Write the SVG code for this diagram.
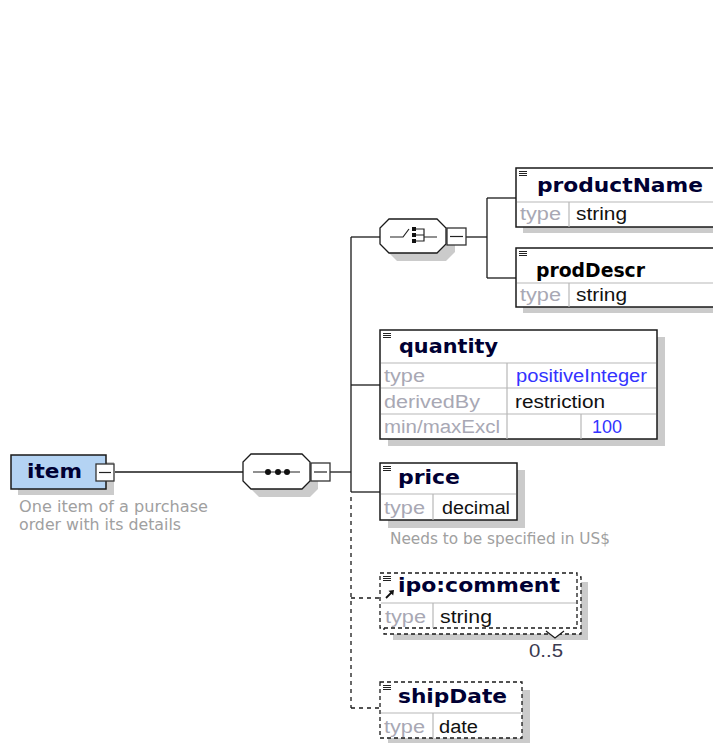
<svg xmlns="http://www.w3.org/2000/svg" width="713" height="743" viewBox="0 0 713 743">
<style>
.bg{fill:#fff}
.sh{fill:#cbcbcb}
.box{fill:#fff;stroke:#1a1a1a;stroke-width:1.5}
.dbox{fill:#fff;stroke:#1a1a1a;stroke-width:1.3;stroke-dasharray:4,3}
.sep{stroke:#b8b8b8;stroke-width:1.2}
.con{fill:none;stroke:#1a1a1a;stroke-width:1.3}
.dcon{fill:none;stroke:#1a1a1a;stroke-width:1.3;stroke-dasharray:4,4}
.name{font-family:"DejaVu Sans",Verdana,sans-serif;font-weight:bold;font-size:19px;fill:#000033}
.lbl{font-family:"Liberation Sans",Arial,sans-serif;font-size:18px;fill:#a8a8b4}
.val{font-family:"Liberation Sans",Arial,sans-serif;font-size:18px;fill:#111}
.blue{fill:#3333ff}
.doc{font-family:"DejaVu Sans",Verdana,sans-serif;font-size:15px;fill:#a0a0a0}
.btn{fill:#fff;stroke:#333;stroke-width:1.3}
.ico{stroke:#222;stroke-width:1.2}
</style>
<rect class="bg" x="0" y="0" width="713" height="743"/>

<g id="connectors">
  <path class="con" d="M115,472 H243"/>
  <path class="con" d="M330,472 H351"/>
  <path class="con" d="M351,237 V492"/>
  <path class="dcon" d="M351,497 V708"/>
  <path class="con" d="M351,237 H380"/>
  <path class="con" d="M351,385 H380"/>
  <path class="con" d="M351,492 H380"/>
  <path class="dcon" d="M351,598 H379"/>
  <path class="dcon" d="M351,708 H380"/>
  <path class="con" d="M466,237 H487"/>
  <path class="con" d="M487,198 V278"/>
  <path class="con" d="M487,198 H516"/>
  <path class="con" d="M487,278 H516"/>
</g>

<g id="item">
  <rect class="sh" x="18" y="462" width="96" height="33"/>
  <rect x="11" y="455" width="95" height="34" fill="#b4d3f3" stroke="#1a1a1a" stroke-width="1.5"/>
  <text class="name" x="27" y="478" textLength="55" lengthAdjust="spacingAndGlyphs">item</text>
  <rect class="btn" x="96" y="464" width="18" height="17"/>
  <line class="ico" x1="99" y1="472.5" x2="111" y2="472.5"/>
  <text class="doc" x="19" y="512" textLength="189" lengthAdjust="spacingAndGlyphs">One item of a purchase</text>
  <text class="doc" x="19" y="530" textLength="162" lengthAdjust="spacingAndGlyphs">order with its details</text>
</g>

<g id="sequence">
  <path class="sh" d="M259,462 H310 L318,470 V489 L310,497 H259 L251,489 V470 Z"/>
  <path fill="#fff" stroke="#1a1a1a" stroke-width="1.3" d="M251,454 H302 L310,462 V481 L302,489 H251 L243,481 V462 Z"/>
  <line class="ico" x1="253" y1="472" x2="300" y2="472"/>
  <circle cx="268" cy="472" r="3" fill="#111"/>
  <circle cx="278" cy="472" r="3" fill="#111"/>
  <circle cx="287" cy="472" r="3" fill="#111"/>
  <rect class="btn" x="311" y="463" width="19" height="18"/>
  <line class="ico" x1="314" y1="472" x2="327" y2="472"/>
</g>

<g id="choice">
  <path class="sh" d="M397,227 H446 L455,236 V252 L446,261 H397 L388,252 V236 Z"/>
  <path fill="#fff" stroke="#1a1a1a" stroke-width="1.3" d="M389,219 H437 L446,228 V244 L437,253 H389 L380,244 V228 Z"/>
  <path class="ico" fill="none" d="M390,237 H403 L409,229"/>
  <rect x="412" y="227" width="4" height="4" fill="#111"/>
  <rect x="412" y="233" width="4" height="4" fill="#111"/>
  <rect x="412" y="239" width="4" height="4" fill="#111"/>
  <path class="ico" fill="none" d="M416,229 H424 V241 H416 M416,235 H424 M424,237 H437"/>
  <rect class="btn" x="447" y="228" width="19" height="17"/>
  <line class="ico" x1="450" y1="236.5" x2="463" y2="236.5"/>
</g>

<g id="productName">
  <rect class="sh" x="523" y="175" width="200" height="58"/>
  <rect class="box" x="516" y="168" width="210" height="59"/>
  <line class="sep" x1="517" y1="202" x2="713" y2="202"/>
  <line class="sep" x1="569" y1="202" x2="569" y2="227"/>
  <path class="ico" d="M519,171.5 H527 M519,173.5 H527 M519,175.5 H527" stroke-width="1"/>
  <text class="name" x="537" y="192" textLength="166" lengthAdjust="spacingAndGlyphs">productName</text>
  <text class="lbl" x="520" y="220" textLength="41" lengthAdjust="spacingAndGlyphs">type</text>
  <text class="val" x="576" y="220" textLength="51" lengthAdjust="spacingAndGlyphs">string</text>
</g>

<g id="prodDescr">
  <rect class="sh" x="523" y="255" width="200" height="58"/>
  <rect class="box" x="516" y="248" width="210" height="59"/>
  <line class="sep" x1="517" y1="283" x2="713" y2="283"/>
  <line class="sep" x1="569" y1="283" x2="569" y2="307"/>
  <path class="ico" d="M519,251.5 H527 M519,253.5 H527 M519,255.5 H527" stroke-width="1"/>
  <text class="name" x="536" y="277" style="fill:#000" textLength="109" lengthAdjust="spacingAndGlyphs">prodDescr</text>
  <text class="lbl" x="520" y="301" textLength="41" lengthAdjust="spacingAndGlyphs">type</text>
  <text class="val" x="576" y="301" textLength="51" lengthAdjust="spacingAndGlyphs">string</text>
</g>

<g id="quantity">
  <rect class="sh" x="388" y="337" width="277" height="109"/>
  <rect class="box" x="380" y="330" width="277" height="109"/>
  <line class="sep" x1="381" y1="363" x2="656" y2="363"/>
  <line class="sep" x1="381" y1="388" x2="656" y2="388"/>
  <line class="sep" x1="381" y1="414" x2="656" y2="414"/>
  <line class="sep" x1="507" y1="363" x2="507" y2="439"/>
  <line class="sep" x1="581" y1="414" x2="581" y2="439"/>
  <path class="ico" d="M383,333.5 H391 M383,335.5 H391 M383,337.5 H391" stroke-width="1"/>
  <text class="name" x="399" y="353" textLength="99" lengthAdjust="spacingAndGlyphs">quantity</text>
  <text class="lbl" x="384" y="382" textLength="41" lengthAdjust="spacingAndGlyphs">type</text>
  <text class="val blue" x="516" y="382" textLength="131" lengthAdjust="spacingAndGlyphs">positiveInteger</text>
  <text class="lbl" x="384" y="408" textLength="96" lengthAdjust="spacingAndGlyphs">derivedBy</text>
  <text class="val" x="515" y="408" textLength="90" lengthAdjust="spacingAndGlyphs">restriction</text>
  <text class="lbl" x="384" y="433" textLength="116" lengthAdjust="spacingAndGlyphs">min/maxExcl</text>
  <text class="val blue" x="592" y="433" textLength="30" lengthAdjust="spacingAndGlyphs">100</text>
</g>

<g id="price">
  <rect class="sh" x="388" y="470" width="137" height="58"/>
  <rect class="box" x="380" y="463" width="137" height="57"/>
  <line class="sep" x1="381" y1="494" x2="516" y2="494"/>
  <line class="sep" x1="433" y1="494" x2="433" y2="520"/>
  <path class="ico" d="M383,466.5 H391 M383,468.5 H391 M383,470.5 H391" stroke-width="1"/>
  <text class="name" x="398" y="484" textLength="62" lengthAdjust="spacingAndGlyphs">price</text>
  <text class="lbl" x="384" y="514" textLength="41" lengthAdjust="spacingAndGlyphs">type</text>
  <text class="val" x="442" y="514" textLength="68" lengthAdjust="spacingAndGlyphs">decimal</text>
  <text class="doc" x="390" y="544" textLength="220" lengthAdjust="spacingAndGlyphs">Needs to be specified in US$</text>
</g>

<g id="ipo_comment">
  <rect class="sh" x="393" y="582" width="195" height="58"/>
  <rect class="dbox" x="384" y="577" width="197" height="57"/>
  <rect class="dbox" x="380" y="573" width="197" height="55"/>
  <line class="sep" x1="381" y1="603" x2="576" y2="603"/>
  <line class="sep" x1="433" y1="603" x2="433" y2="628"/>
  <path class="ico" d="M383,576.5 H391 M383,578.5 H391 M383,580.5 H391" stroke-width="1"/>
  <path fill="#fff" stroke="#1a1a1a" stroke-width="1.2" d="M546,631 L555,638 L564,631"/>
  <path stroke="#111" stroke-width="1.8" fill="none" d="M386,598 L392,592"/>
  <path fill="#111" d="M394,590 L388.5,590.8 L393.2,595.5 Z"/>
  <text class="name" x="398" y="592" textLength="162" lengthAdjust="spacingAndGlyphs">ipo:comment</text>
  <text class="lbl" x="385" y="623" textLength="41" lengthAdjust="spacingAndGlyphs">type</text>
  <text class="val" x="440" y="623" textLength="52" lengthAdjust="spacingAndGlyphs">string</text>
  <text class="val" x="529" y="657" style="fill:#3a3a50" textLength="34" lengthAdjust="spacingAndGlyphs">0..5</text>
</g>

<g id="shipDate">
  <rect class="sh" x="388" y="690" width="142" height="60"/>
  <rect class="dbox" x="380" y="682" width="142" height="56"/>
  <line class="sep" x1="381" y1="713" x2="521" y2="713"/>
  <line class="sep" x1="433" y1="713" x2="433" y2="738"/>
  <path class="ico" d="M383,685.5 H391 M383,687.5 H391 M383,689.5 H391" stroke-width="1"/>
  <text class="name" x="398" y="703" textLength="109" lengthAdjust="spacingAndGlyphs">shipDate</text>
  <text class="lbl" x="384" y="733" textLength="41" lengthAdjust="spacingAndGlyphs">type</text>
  <text class="val" x="439" y="733" textLength="39" lengthAdjust="spacingAndGlyphs">date</text>
</g>
</svg>
